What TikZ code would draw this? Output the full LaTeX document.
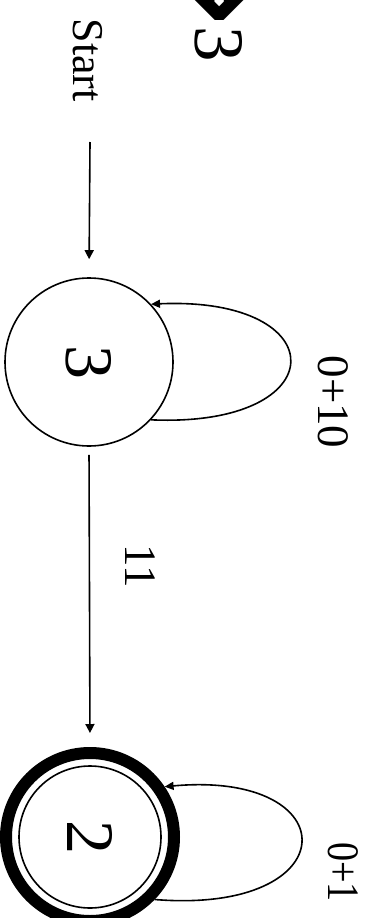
\documentclass[tikz,border=0pt]{standalone}
\usepackage{fontspec}
\setmainfont{Liberation Serif}
\newfontfamily\arrowfont{DejaVu Sans}
\usepackage{tikz}
\usetikzlibrary{positioning,arrows.meta,calc}
\tikzset{
  edge/.style={-{Triangle[length=9pt,width=9pt]}, line width=1.6pt, draw=black},
  every node/.style={anchor=center}
}

\begin{document}
\begin{tikzpicture}[
    x=1pt, y=1pt,
    lbl/.style={font=\fontsize{45}{54}\selectfont, rotate=-90, inner sep=0pt},
    state/.style={circle, draw, line width=1.6pt, inner sep=0pt, font=\fontsize{68}{80}\selectfont},
    loopline/.style={-{Triangle[length=9pt,width=8pt]}, line width=1.6pt, draw=black}
  ]
  \useasboundingbox (0,0) rectangle (369,-918);

  % title and start label
  \node[lbl, font=\fontsize{71}{80}\selectfont, anchor=base east] (hdr) at (195,-62)
    {\raisebox{-16pt}{\arrowfont\bfseries\fontsize{128}{136}\selectfont ⇒}3};
  \node[lbl, font=\fontsize{44}{54}\selectfont, anchor=base east] (startlbl) at (73,-102) {Start};

  % states
  \node[state, minimum size=168pt] (s3) at (89,-362) {\rotatebox{-90}{3}};
  \node[state, line width=12pt, minimum size=168pt] (s2) at (90,-837) {};
  \node[state, minimum size=142pt] (s2in) at (s2) {\rotatebox{-90}{2}};

  % straight arrows
  \coordinate (start) at (90,-142);
  \draw[edge, shorten >=18pt] (start) -- (s3.north);
  \draw[edge, shorten <=8pt, shorten >=14pt] (s3.south) -- (s2.north);
  \node[lbl, anchor=base] (l11) at (125,-566) {11};

  % self loops
  \draw[loopline] (s3.-43) .. controls (336,-428) and (336,-296) .. (s3.43);
  \node[lbl, anchor=base] (l010) at (318,-402) {0+10};
  \draw[loopline] (s2.-44) .. controls (348,-915) and (348,-770) .. (s2.34);
  \node[lbl, anchor=base, xscale=0.85] (l01) at (328,-872) {0+1};

\end{tikzpicture}
\end{document}
